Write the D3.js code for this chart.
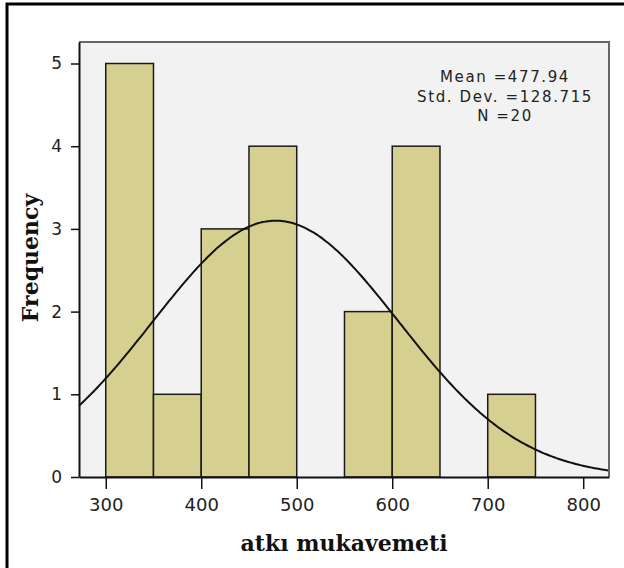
<!DOCTYPE html>
<html lang="tr">
<head>
<meta charset="UTF-8">
<title>atkı mukavemeti histogram</title>
<style>
    body { margin: 0; background: #fff; }
    svg { display: block; }
</style>
</head>
<body>
<svg id="chart" width="624" height="568"></svg>
<script src="https://d3js.org/d3.v7.min.js"></script>
<script>

    // histogram data (bin starts, width 50)
    var binStarts = [300, 350, 400, 450, 500, 550, 600, 650, 700];
    var counts = [5, 1, 3, 4, 0, 2, 4, 0, 1];
    var binWidth = 50;

    var xTicks = [300, 400, 500, 600, 700, 800];
    var yTicks = [0, 1, 2, 3, 4, 5];

    // stats shown in the box
    var mean = 477.94, stdDev = 128.715, n = 20;
    var statLines = ["Mean =477.94", "Std. Dev. =128.715", "N =20"];

    var svg = d3.select("#chart"),
        pLeft = 79, pRight = 609, pTop = 42, pBottom = 477;

    var x = d3.scaleLinear().domain([272, 827]).range([pLeft, pRight]),
        y = d3.scaleLinear().domain([0, 5.26]).range([pBottom, pTop]);

    // page frame (left + top edges only)
    svg.append("path")
        .attr("d", "M7,568 V4 H624")
        .attr("fill", "none")
        .attr("stroke", "#000")
        .attr("stroke-width", 3);

    // plot background
    svg.append("rect")
        .attr("x", pLeft).attr("y", pTop)
        .attr("width", pRight - pLeft).attr("height", pBottom - pTop)
        .attr("fill", "#f2f2f2");

    // bars
    var bins = binStarts.map(function (s, i) { return {x0: s, x1: s + binWidth, count: counts[i]}; })
        .filter(function (d) { return d.count > 0; });

    svg.append("g").selectAll("rect")
        .data(bins)
        .join("rect")
        .attr("x", function (d) { return x(d.x0); })
        .attr("y", function (d) { return y(d.count); })
        .attr("width", function (d) { return x(d.x1) - x(d.x0); })
        .attr("height", function (d) { return y(0) - y(d.count); })
        .attr("fill", "#d5d090")
        .attr("stroke", "#1a1a1a")
        .attr("stroke-width", 1.5);

    // normal curve from the shown mean / sd, scaled to counts
    var scale = n * binWidth / (stdDev * Math.sqrt(2 * Math.PI));
    var curveX = d3.range(272, 827.5, 2.5);
    var line = d3.line()
        .x(function (v) { return x(v); })
        .y(function (v) { return y(scale * Math.exp(-0.5 * Math.pow((v - mean) / stdDev, 2))); })
        .curve(d3.curveBasis);

    svg.append("path")
        .datum(curveX)
        .attr("d", line)
        .attr("fill", "none")
        .attr("stroke", "#111")
        .attr("stroke-width", 2);

    // top / right frame
    svg.append("path")
        .attr("d", "M" + pLeft + "," + pTop + " H" + pRight + " V" + pBottom)
        .attr("fill", "none")
        .attr("stroke", "#666")
        .attr("stroke-width", 2);

    // axes
    var xAxis = svg.append("g")
        .attr("transform", "translate(0," + pBottom + ")")
        .call(d3.axisBottom(x).tickValues(xTicks).tickSize(12).tickPadding(9).tickSizeOuter(0));

    var yAxis = svg.append("g")
        .attr("transform", "translate(" + pLeft + ",0)")
        .call(d3.axisLeft(y).tickValues(yTicks).tickFormat(d3.format("d"))
            .tickSize(8).tickPadding(9).tickSizeOuter(0));

    [xAxis, yAxis].forEach(function (g) {
        g.select(".domain").attr("stroke", "#111").attr("stroke-width", 2);
        g.selectAll(".tick line").attr("stroke", "#111").attr("stroke-width", 1.5);
        g.selectAll("text")
            .attr("fill", "#222")
            .style("font-family", "'DejaVu Sans', sans-serif");
    });
    xAxis.selectAll("text").style("font-size", "18px");
    yAxis.selectAll("text").style("font-size", "17px");

    // stats box text
    svg.append("g").selectAll("text")
        .data(statLines)
        .join("text")
        .attr("x", 505)
        .attr("y", function (d, i) { return 82 + i * 19.5; })
        .attr("text-anchor", "middle")
        .style("font-family", "'DejaVu Sans', sans-serif")
        .style("font-size", "15px")
        .style("letter-spacing", "1.6px")
        .attr("fill", "#222")
        .text(function (d) { return d; });

    // axis titles
    svg.append("text")
        .attr("transform", "translate(38,258) rotate(-90)")
        .attr("text-anchor", "middle")
        .style("font-family", "'DejaVu Serif', serif")
        .style("font-weight", "bold")
        .style("font-size", "22px")
        .attr("fill", "#111")
        .text("Frequency");

    svg.append("text")
        .attr("x", 344)
        .attr("y", 551)
        .attr("text-anchor", "middle")
        .style("font-family", "'DejaVu Serif', serif")
        .style("font-weight", "bold")
        .style("font-size", "22px")
        .attr("fill", "#111")
        .text("atkı mukavemeti");

</script>
</body>
</html>
